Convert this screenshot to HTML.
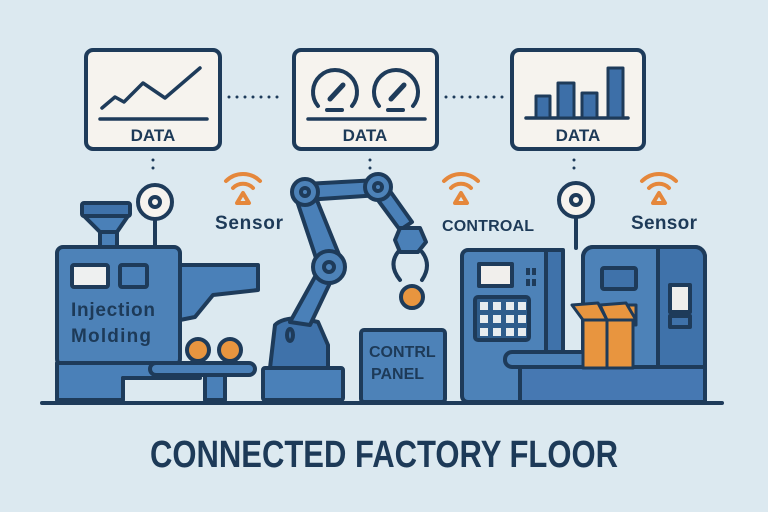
<!DOCTYPE html>
<html><head><meta charset="utf-8"><style>
html,body{margin:0;padding:0;background:#dce9f0;}
svg{display:block}
text{font-family:"Liberation Sans",sans-serif;fill:#1d3a58}
</style></head><body>
<svg width="768" height="512" viewBox="0 0 768 512" xmlns="http://www.w3.org/2000/svg">
<rect width="768" height="512" fill="#dce9f0"/>
<g stroke="#1e3b5a" stroke-width="4" stroke-linejoin="round" stroke-linecap="round">
<rect x="86" y="50" width="134" height="99" rx="7" fill="#f6f3ee"/>
<rect x="294" y="50" width="143" height="99" rx="7" fill="#f6f3ee"/>
<rect x="512" y="50" width="132" height="99" rx="7" fill="#f6f3ee"/>
<line x1="100" y1="119" x2="207" y2="119" stroke-width="3.5"/>
<polyline points="102,108 115,97 124,102 143,83 165,98 200,68" fill="none" stroke-width="3.5"/>
<line x1="308" y1="119" x2="425" y2="119" stroke-width="3.5"/>
<path d="M318,106 A22,22 0 1 1 352,106" fill="none"/>
<path d="M379,106 A22,22 0 1 1 413,106" fill="none"/>
<line x1="330" y1="99" x2="343" y2="85" stroke-width="5"/>
<line x1="391" y1="99" x2="404" y2="85" stroke-width="5"/>
<line x1="327" y1="110" x2="342" y2="110" stroke-width="4"/>
<line x1="388" y1="110" x2="403" y2="110" stroke-width="4"/>
<line x1="526" y1="118" x2="628" y2="118" stroke-width="3.5"/>
<g fill="#3d6fa8" stroke-width="3">
<rect x="536" y="96" width="14" height="22"/><rect x="558" y="83" width="16" height="35"/>
<rect x="582" y="93" width="15" height="25"/><rect x="608" y="68" width="15" height="50"/>
</g>
</g>
<g fill="#1e3b5a" font-weight="bold" font-size="17" text-anchor="middle">
<text x="153" y="141">DATA</text><text x="365" y="141">DATA</text><text x="578" y="141">DATA</text>
</g>
<g stroke="#1e3b5a" stroke-width="3" stroke-linecap="round" stroke-dasharray="0 8">
<line x1="229" y1="97" x2="285" y2="97"/><line x1="446" y1="97" x2="503" y2="97"/>
<line x1="153" y1="160" x2="153" y2="172"/><line x1="370" y1="160" x2="370" y2="172"/><line x1="574" y1="160" x2="574" y2="172"/>
</g>
<g fill="none" stroke="#e5873b" stroke-width="4" stroke-linecap="round">
<path d="M226,181 A24,24 0 0 1 260,181"/><path d="M233,188 A14,14 0 0 1 253,188"/><path d="M243,193 L249,203 L237,203 Z" stroke-linejoin="round"/>
<path d="M444,181 A24,24 0 0 1 478,181"/><path d="M451,188 A14,14 0 0 1 471,188"/><path d="M461,193 L467,203 L455,203 Z" stroke-linejoin="round"/>
<path d="M642,181 A24,24 0 0 1 676,181"/><path d="M649,188 A14,14 0 0 1 669,188"/><path d="M659,193 L665,203 L653,203 Z" stroke-linejoin="round"/>
</g>
<g font-size="19" fill="#16304c">
<text x="215" y="229" font-weight="bold" textLength="68">Sensor</text><text x="631" y="229" font-weight="bold" textLength="66">Sensor</text>
<text x="442" y="231" font-size="16" font-weight="bold" textLength="92">CONTROAL</text>
</g>
<g stroke="#1e3b5a" stroke-width="4" stroke-linejoin="round" stroke-linecap="round">
<line x1="155" y1="219" x2="155" y2="247"/>
<circle cx="155" cy="202" r="17" fill="#f6f3ee"/><circle cx="155" cy="202" r="5" fill="none"/>
<line x1="576" y1="217" x2="576" y2="248"/>
<circle cx="576" cy="200" r="17" fill="#f6f3ee"/><circle cx="576" cy="200" r="5" fill="none"/>
<rect x="82" y="203" width="48" height="13" rx="2" fill="#3f72aa"/>
<path d="M84,216 L128,216 L117,232 L100,232 Z" fill="#4a80b8"/>
<rect x="100" y="232" width="17" height="15" fill="#4a80b8"/>
<path d="M180,265 L258,265 L258,290 L213,295 L195,317 L180,320 Z" fill="#4a80b8"/>
<rect x="57" y="247" width="123" height="118" rx="6" fill="#4d82b8"/>
<rect x="72" y="265" width="36" height="22" rx="2" fill="#eef0f0"/>
<rect x="120" y="265" width="27" height="22" rx="2" fill="#4a80b8"/>
<path d="M57,363 L180,363 L180,400 L57,400 Z" fill="#4a80b8"/>
<rect x="123" y="378" width="80" height="24" fill="#dce9f0" stroke="none"/>
<line x1="123" y1="378" x2="123" y2="400"/><line x1="123" y1="378" x2="200" y2="378"/>
<rect x="150" y="363" width="105" height="12" rx="6" fill="#4a80b8"/>
<rect x="205" y="375" width="20" height="25" fill="#4a80b8"/>
<circle cx="198" cy="350" r="11" fill="#e8953f"/><circle cx="230" cy="350" r="11" fill="#e8953f"/>
<rect x="263" y="368" width="80" height="32" rx="2" fill="#4a80b8"/>
<path d="M275,325 Q282,318 300,318 L318,322 L328,345 L328,368 L270,368 Z" fill="#3f72aa"/>
<path d="M290,322 L316,275 L340,262 L310,325 Z" fill="#4a80b8"/>
<path d="M320,270 L296,198 L312,188 L342,262 Z" fill="#4a80b8"/>
<path d="M305,184 L378,180 L380,195 L305,200 Z" fill="#4a80b8"/>
<path d="M372,192 L385,184 L412,222 L400,230 Z" fill="#4a80b8"/>
<circle cx="329" cy="267" r="16" fill="#4d82b8"/><circle cx="329" cy="267" r="5" fill="none"/>
<circle cx="305" cy="192" r="13" fill="#4d82b8"/><circle cx="305" cy="192" r="4" fill="none"/>
<circle cx="378" cy="187" r="13" fill="#4d82b8"/><circle cx="378" cy="187" r="4" fill="none"/>
<ellipse cx="290" cy="335" rx="3" ry="6" fill="none"/>
<path d="M400,228 L420,228 L426,242 L418,252 L400,252 L395,240 Z" fill="#4a80b8"/>
<path d="M398,252 Q388,265 400,280" fill="none"/><path d="M422,252 Q432,265 422,280" fill="none"/>
<circle cx="412" cy="297" r="11" fill="#e8953f"/>
<rect x="361" y="330" width="84" height="72" rx="3" fill="#4d82b8"/>
<rect x="462" y="250" width="101" height="152" rx="6" fill="#4d82b8"/>
<rect x="546" y="250" width="17" height="152" fill="#3f72aa"/>
<rect x="479" y="264" width="33" height="22" fill="#f1efec"/>
<rect x="475" y="297" width="54" height="43" rx="3" fill="#2f5d8c"/>
<rect x="583" y="247" width="122" height="155" rx="10" fill="#4d82b8"/>
<rect x="658" y="249" width="45" height="151" fill="#3f72aa" stroke="none"/>
<rect x="583" y="247" width="122" height="155" rx="10" fill="none"/>
<line x1="658" y1="249" x2="658" y2="400"/>
<rect x="602" y="268" width="34" height="21" rx="2" fill="#3f72aa"/>
<rect x="670" y="285" width="20" height="27" fill="#eeeeec"/>
<rect x="670" y="316" width="20" height="11" fill="#3f72aa"/>
<rect x="520" y="367" width="185" height="35" fill="#4678b2"/>
<rect x="505" y="352" width="90" height="15" rx="7" fill="#4d82b8"/>
<rect x="596" y="305" width="40" height="20" fill="#e8953f" stroke-width="3"/>
<rect x="583" y="320" width="50" height="48" fill="#e8953f" stroke-width="3"/>
<line x1="607" y1="320" x2="607" y2="368" stroke-width="3"/>
<path d="M572,305 L598,303 L607,320 L583,320 Z" fill="#e8953f" stroke-width="3"/>
<path d="M600,305 L626,303 L636,320 L607,320 Z" fill="#e8953f" stroke-width="3"/>
<line x1="42" y1="403" x2="722" y2="403"/>
</g>
<g fill="#e7ecef">
<rect x="480" y="302" width="8" height="8"/><rect x="493" y="302" width="8" height="8"/><rect x="506" y="302" width="8" height="8"/><rect x="518" y="302" width="8" height="8"/>
<rect x="480" y="315" width="8" height="8"/><rect x="493" y="315" width="8" height="8"/><rect x="506" y="315" width="8" height="8"/><rect x="518" y="315" width="8" height="8"/>
<rect x="480" y="328" width="8" height="8"/><rect x="493" y="328" width="8" height="8"/><rect x="506" y="328" width="8" height="8"/><rect x="518" y="328" width="8" height="8"/>
</g>
<g fill="#1e3b5a"><rect x="526" y="268" width="4" height="7"/><rect x="532" y="268" width="4" height="7"/><rect x="526" y="279" width="4" height="7"/><rect x="532" y="279" width="4" height="7"/></g>
<g font-size="19" fill="#132a44" font-weight="bold">
<text x="71" y="316" textLength="84">Injection</text><text x="71" y="342" textLength="80">Molding</text>
</g>
<g font-size="16" font-weight="bold" fill="#132a44">
<text x="369" y="357">CONTRL</text><text x="371" y="379">PANEL</text>
</g>
<text x="384" y="467" text-anchor="middle" font-size="38" font-weight="bold" fill="#1f4a70" textLength="468" lengthAdjust="spacingAndGlyphs">CONNECTED FACTORY FLOOR</text>
</svg>
</body></html>
